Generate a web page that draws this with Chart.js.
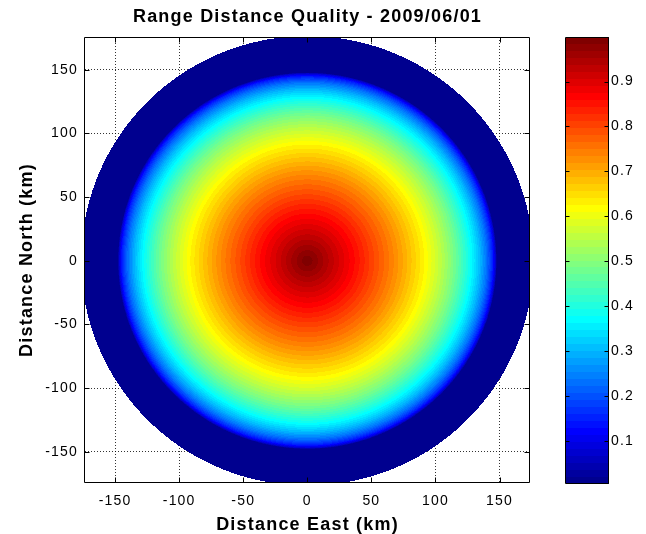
<!DOCTYPE html>
<html>
<head>
<meta charset="utf-8">
<script src="https://cdn.jsdelivr.net/npm/chart.js@4.4.1/dist/chart.umd.min.js"></script>
<style>
  html, body { margin: 0; padding: 0; background: #fff; }
  #wrap { position: relative; width: 646px; height: 534px; }
  #wrap canvas { position: absolute; top: 0; }
  #main { left: 0; width: 646px; height: 534px; }
  #cbar { left: 540px; width: 106px; height: 534px; }
</style>
</head>
<body>
<div id="wrap">
  <canvas id="main" width="646" height="534"></canvas>
  <canvas id="cbar" width="106" height="534"></canvas>
</div>
<script>
const titleText = 'Range Distance Quality - 2009/06/01';

// radial quality profile (distance from radar in km -> quality)
const radiusKm = [0, 5, 10, 15, 20, 25, 30, 35, 40, 45, 50, 55, 60, 65, 70, 75, 80, 85, 90, 95,
  100, 105, 110, 115, 120, 125, 130, 135, 140, 143, 145, 147, 148, 176.5];
const quality = [0.999, 0.98, 0.962, 0.943, 0.924, 0.905, 0.886, 0.867, 0.847, 0.827, 0.806, 0.786,
  0.766, 0.746, 0.724, 0.702, 0.679, 0.656, 0.633, 0.606, 0.578, 0.548, 0.515, 0.48, 0.44, 0.398,
  0.352, 0.298, 0.232, 0.18, 0.14, 0.07, 0.005, 0.005];
const coverageKm = 176.5;

const xRange = [-173.5, 173.8];
const yRange = [-174.5, 175.7];
const xTicks = [-150, -100, -50, 0, 50, 100, 150];
const yTicks = [-150, -100, -50, 0, 50, 100, 150];
const cbRange = [0.005, 0.999];
const cbTicks = [0.1, 0.2, 0.3, 0.4, 0.5, 0.6, 0.7, 0.8, 0.9];

Chart.defaults.font.family = "'Liberation Sans', Arial, Helvetica, sans-serif";
Chart.defaults.color = '#000';

// matlab style jet(64)
function jet(i) {
  const x = (i + 1) / 64;
  const c = t => Math.round(255 * Math.max(0, Math.min(1, 1.5 - Math.abs(4 * x - t))));
  return [c(3), c(2), c(1)];
}
const cmap = [];
for (let i = 0; i < 64; i++) cmap.push(jet(i));

function colorIndex(q) {
  const k = Math.floor((q - cbRange[0]) / (cbRange[1] - cbRange[0]) * 64);
  return Math.max(0, Math.min(63, k));
}

function qualityAt(r) {
  for (let i = 1; i < radiusKm.length; i++) {
    if (r <= radiusKm[i]) {
      const t = (r - radiusKm[i - 1]) / (radiusKm[i] - radiusKm[i - 1]);
      return quality[i - 1] + t * (quality[i] - quality[i - 1]);
    }
  }
  return quality[quality.length - 1];
}

const spacing = {
  id: 'spacing',
  beforeDraw(chart) { chart.ctx.letterSpacing = '1.2px'; }
};

// shaded coverage disk, one pixel at a time through the axes
const disk = {
  id: 'disk',
  beforeDatasetsDraw(chart) {
    const { ctx, chartArea: a, scales: { x, y } } = chart;
    const x0 = Math.floor(a.left), y0 = Math.floor(a.top);
    const w = Math.ceil(a.right) - x0, h = Math.ceil(a.bottom) - y0;
    const off = document.createElement('canvas');
    off.width = w; off.height = h;
    const octx = off.getContext('2d');
    const img = octx.createImageData(w, h);
    for (let j = 0; j < h; j++) {
      const vy = y.getValueForPixel(y0 + j + 0.5);
      for (let i = 0; i < w; i++) {
        const vx = x.getValueForPixel(x0 + i + 0.5);
        const r = Math.hypot(vx, vy);
        if (r > coverageKm) continue;
        const c = cmap[colorIndex(qualityAt(r))];
        const p = (j * w + i) * 4;
        img.data[p] = c[0]; img.data[p + 1] = c[1]; img.data[p + 2] = c[2]; img.data[p + 3] = 255;
      }
    }
    octx.putImageData(img, 0, 0);
    ctx.drawImage(off, x0, y0);
  }
};

// axes box with inward ticks on all sides
const frame = {
  id: 'frame',
  afterDraw(chart) {
    const { ctx, chartArea: a, scales: { x, y } } = chart;
    const L = Math.round(a.left) - 0.5, R = Math.round(a.right) - 0.5;
    const T = Math.round(a.top) + 0.5, B = Math.round(a.bottom) - 0.5;
    ctx.save();
    ctx.strokeStyle = '#000';
    ctx.lineWidth = 1;
    ctx.beginPath();
    ctx.rect(L, T, R - L, B - T);
    xTicks.forEach(v => {
      const px = Math.round(x.getPixelForValue(v)) + 0.5;
      ctx.moveTo(px, B); ctx.lineTo(px, B - 5);
      ctx.moveTo(px, T); ctx.lineTo(px, T + 5);
    });
    yTicks.forEach(v => {
      const py = Math.round(y.getPixelForValue(v)) + 0.5;
      ctx.moveTo(L, py); ctx.lineTo(L + 5, py);
      ctx.moveTo(R, py); ctx.lineTo(R - 5, py);
    });
    ctx.stroke();
    ctx.restore();
  }
};

const gridStyle = { color: 'rgba(0,0,0,0.8)', lineWidth: 1, drawTicks: false };
const tickFont = { size: 14 };
const labelFont = { size: 18, weight: 'bold', lineHeight: 1 };

new Chart(document.getElementById('main'), {
  type: 'scatter',
  data: { datasets: [] },
  options: {
    responsive: false,
    animation: false,
    devicePixelRatio: 1,
    layout: { padding: { left: 0, right: 116, top: 0, bottom: 0 } },
    plugins: {
      legend: { display: false },
      tooltip: { enabled: false },
      title: {
        display: true, text: titleText, fullSize: false, color: '#000',
        font: { size: 18, weight: 'bold', lineHeight: 1.2 },
        padding: { top: 6, bottom: 9.4 }
      }
    },
    scales: {
      x: {
        type: 'linear', min: xRange[0], max: xRange[1],
        afterBuildTicks: s => { s.ticks = xTicks.map(v => ({ value: v })); },
        afterFit: s => { s.height = 51; },
        grid: gridStyle,
        border: { display: false, dash: [1, 2] },
        ticks: { font: tickFont, color: '#000', padding: 10, maxRotation: 0, autoSkip: false },
        title: { display: true, text: 'Distance East (km)', color: '#000', font: labelFont, padding: { top: 0, bottom: 0 } }
      },
      y: {
        type: 'linear', min: yRange[0], max: yRange[1],
        afterBuildTicks: s => { s.ticks = yTicks.map(v => ({ value: v })); },
        afterFit: s => { s.width = 85; },
        grid: gridStyle,
        border: { display: false, dash: [1, 2] },
        ticks: { font: tickFont, color: '#000', padding: 7, autoSkip: false },
        title: { display: true, text: 'Distance North (km)', color: '#000', font: labelFont, padding: { top: 18, bottom: 0 } }
      }
    }
  },
  plugins: [spacing, disk, frame]
});

// colorbar: 64 bands placed on the quality axis
const bands = {
  id: 'bands',
  beforeDatasetsDraw(chart) {
    const { ctx, chartArea: a, scales: { y } } = chart;
    const step = (cbRange[1] - cbRange[0]) / 64;
    for (let i = 0; i < 64; i++) {
      const top = Math.round(y.getPixelForValue(cbRange[0] + (i + 1) * step));
      const bot = Math.round(y.getPixelForValue(cbRange[0] + i * step));
      const c = cmap[i];
      ctx.fillStyle = `rgb(${c[0]},${c[1]},${c[2]})`;
      ctx.fillRect(Math.round(a.left), top, Math.round(a.right) - Math.round(a.left), bot - top);
    }
  },
  afterDraw(chart) {
    const { ctx, chartArea: a, scales: { y } } = chart;
    const L = Math.round(a.left) - 0.5, R = Math.round(a.right) - 0.5;
    const T = Math.round(a.top) + 0.5, B = Math.round(a.bottom) - 0.5;
    ctx.save();
    ctx.strokeStyle = '#000';
    ctx.lineWidth = 1;
    ctx.beginPath();
    ctx.rect(L, T, R - L, B - T);
    cbTicks.forEach(v => {
      const py = Math.round(y.getPixelForValue(v)) + 0.5;
      ctx.moveTo(L, py); ctx.lineTo(L + 4, py);
      ctx.moveTo(R, py); ctx.lineTo(R - 4, py);
    });
    ctx.stroke();
    ctx.restore();
  }
};

new Chart(document.getElementById('cbar'), {
  type: 'scatter',
  data: { datasets: [] },
  options: {
    responsive: false,
    animation: false,
    devicePixelRatio: 1,
    layout: { padding: { left: 26, right: 0, top: 37, bottom: 50 } },
    plugins: { legend: { display: false }, tooltip: { enabled: false } },
    scales: {
      x: { display: false, min: 0, max: 1 },
      y: {
        position: 'right', min: cbRange[0], max: cbRange[1],
        afterBuildTicks: s => { s.ticks = cbTicks.map(v => ({ value: v })); },
        afterFit: s => { s.width = 37; },
        grid: { display: false, drawTicks: false },
        border: { display: false },
        ticks: { font: tickFont, color: '#000', padding: 2, autoSkip: false, callback: v => v.toFixed(1) }
      }
    }
  },
  plugins: [spacing, bands]
});
</script>
</body>
</html>
